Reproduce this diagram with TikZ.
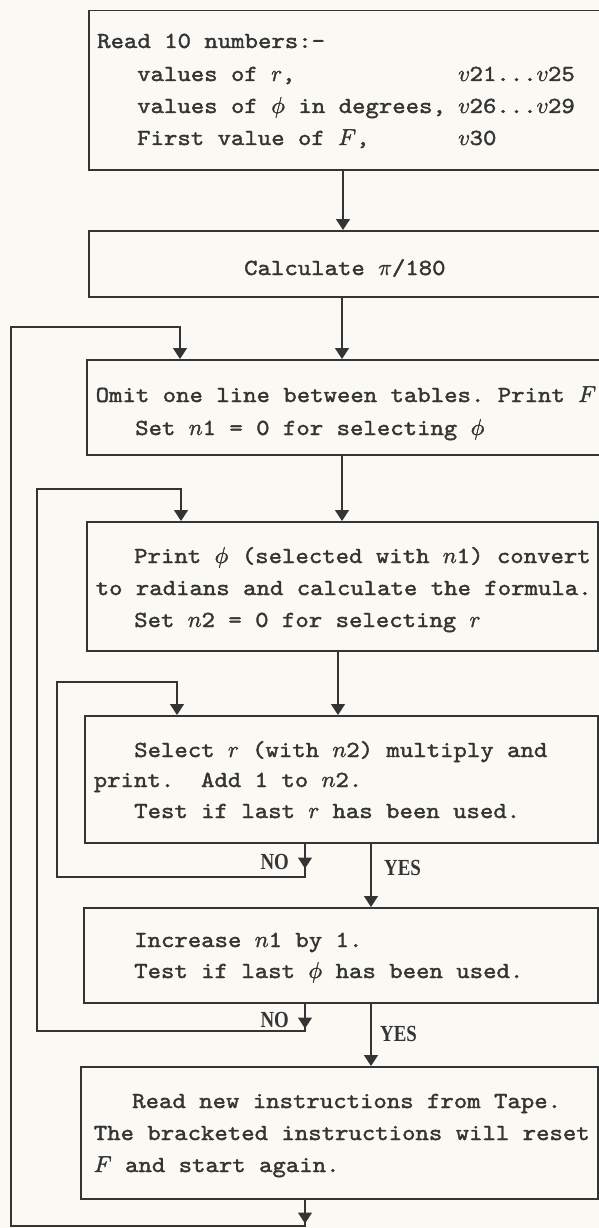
\documentclass[tikz,border=0pt]{standalone}
\usepackage{fontspec}
\usepackage{unicode-math}
\setmonofont{lmmono10-regular.otf}[FakeStretch=1.11,FakeBold=1.6]
\setmathfont{latinmodern-math.otf}[FakeBold=1.4]
\newfontfamily\lblfont{Liberation Serif}[FakeStretch=0.82]
\usetikzlibrary{arrows.meta}
\definecolor{paper}{RGB}{250,249,243}
\definecolor{ink}{RGB}{52,52,52}
\tikzset{
  box/.style={draw=ink, line width=1.5pt, rectangle, inner sep=0pt, anchor=north west},
  txt/.style={anchor=base west, inner sep=0pt, text=ink,
    font=\ttfamily\frenchspacing\fontsize{23}{32}\selectfont},
  lbl/.style={inner sep=0pt, text=ink, font=\lblfont\bfseries\fontsize{23}{25}\selectfont},
  ln/.style={draw=ink, line width=1.4pt},
  arr/.style={ln, -{Triangle[width=14pt,length=11pt]}},
}
\begin{document}
\begin{tikzpicture}[x=1pt,y=-1pt]
\fill[paper] (0,0) rectangle (599,1228);
\useasboundingbox (0,0) rectangle (599,1228);

% boxes
\node[box, minimum width=522pt, minimum height=159pt] (b1) at (88,10) {};
\node[box, minimum width=522pt, minimum height=66pt]  (b2) at (88,230) {};
\node[box, minimum width=524pt, minimum height=95pt]  (b3) at (86,359) {};
\node[box, minimum width=511pt, minimum height=129pt] (b4) at (86,521) {};
\node[box, minimum width=513pt, minimum height=127pt] (b5) at (84,715) {};
\node[box, minimum width=514pt, minimum height=95pt]  (b6) at (83,907) {};
\node[box, minimum width=517pt, minimum height=132pt] (b7) at (80,1066) {};

% texts
\node[txt] (t1a) at (97,48)  {Read 10 numbers:-};
\node[txt] (t1b) at (137,81) {\makebox[321pt][l]{values of $r$,}$v$21...$v$25};
\node[txt] (t1c) at (137,113) {\makebox[321pt][l]{values of $\phi$ in degrees,}$v$26...$v$29};
\node[txt] (t1d) at (137,145) {\makebox[321pt][l]{First value of $F$,}$v$30};

\node[txt] (t2a) at (244,275) {Calculate $\pi$/180};

\node[txt] (t3a) at (95.5,402) {Omit one line between tables. Print $F$};
\node[txt] (t3b) at (135,435) {Set $n$1 = 0 for selecting $\phi$};

\node[txt] (t4a) at (134,563) {Print $\phi$ (selected with $n$1) convert};
\node[txt] (t4b) at (95.5,595) {to radians and calculate the formula.};
\node[txt] (t4c) at (134,627) {Set $n$2 = 0 for selecting $r$};

\node[txt] (t5a) at (134,757) {Select $r$ (with $n$2) multiply and};
\node[txt] (t5b) at (93.6,787) {print.\ \ Add 1 to $n$2.};
\node[txt] (t5c) at (134,818) {Test if last $r$ has been used.};

\node[txt] (t6a) at (134,947) {Increase $n$1 by 1.};
\node[txt] (t6b) at (134,978) {Test if last $\phi$ has been used.};

\node[txt] (t7a) at (132,1108) {Read new instructions from Tape.};
\node[txt] (t7b) at (93.6,1140) {The bracketed instructions will reset};
\node[txt] (t7c) at (93.6,1172) {$F$ and start again.};

% labels
\node[lbl, anchor=east] (no1) at (289,862) {NO};
\node[lbl, anchor=west] (yes1) at (384,868) {YES};
\node[lbl, anchor=east] (no2) at (289,1020) {NO};
\node[lbl, anchor=west] (yes2) at (380,1034) {YES};

% coordinates
\coordinate (a1) at (343,0);
\coordinate (a2) at (342,0);
\coordinate (a3) at (338,0);
\coordinate (y1) at (371,0);
\coordinate (N1) at (305,877);
\coordinate (L3) at (57,682);
\coordinate (T3) at (177,0);
\coordinate (N2) at (305,1031);
\coordinate (L2) at (37,489);
\coordinate (T2) at (181,0);
\coordinate (N3) at (305,1226);
\coordinate (L1) at (11,327);
\coordinate (T1) at (180,0);

% main flow
\draw[arr] (b1.south -| a1) -- (b2.north -| a1);
\draw[arr] (b2.south -| a2) -- (b3.north -| a2);
\draw[arr] (b3.south -| a2) -- (b4.north -| a2);
\draw[arr] (b4.south -| a3) -- (b5.north -| a3);
\draw[arr] (b5.south -| y1) -- (b6.north -| y1);
\draw[arr] (b6.south -| y1) -- (b7.north -| y1);

% inner loop (NO from b5)
\draw[arr] (b5.south -| N1) -- (N1) -| (L3) -| (b5.north -| T3);
\draw[arr] (b5.south -| N1) -- ++(0,25);

% middle loop (NO from b6)
\draw[arr] (b6.south -| N2) -- (N2) -| (L2) -| (b4.north -| T2);
\draw[arr] (b6.south -| N2) -- ++(0,25);

% outer loop (from b7)
\draw[arr] (b7.south -| N3) -- (N3) -| (L1) -| (b3.north -| T1);
\draw[arr] (b7.south -| N3) -- ++(0,24);
\end{tikzpicture}
\end{document}
